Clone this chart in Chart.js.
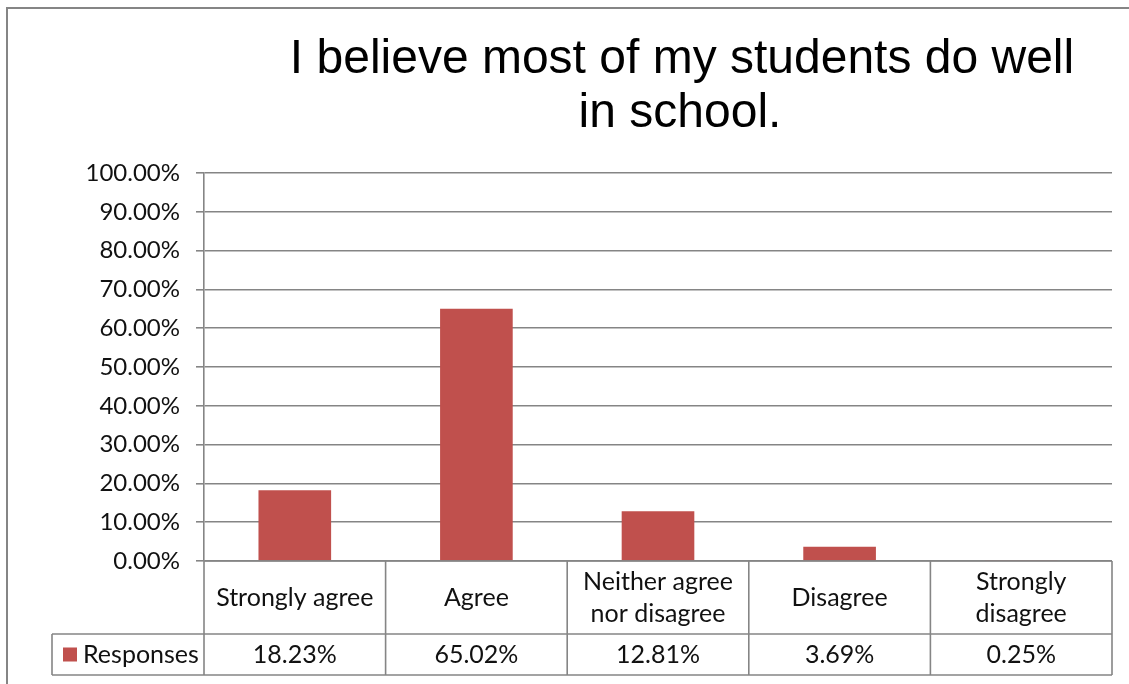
<!DOCTYPE html>
<html>
<head>
<meta charset="utf-8">
<script src="https://cdn.jsdelivr.net/npm/chart.js@4"></script>
<style>
  html, body { margin: 0; padding: 0; background: #ffffff; }
  #wrap { position: relative; width: 1129px; height: 684px; }
  canvas { display: block; }
</style>
</head>
<body>
<div id="wrap"><canvas id="c" width="1129" height="684"></canvas></div>
<script>
const titleLines = ["I believe most of my students do well", "in school."];
const categories = [["Strongly agree"], ["Agree"], ["Neither agree", "nor disagree"], ["Disagree"], ["Strongly", "disagree"]];
const seriesName = "Responses";
const responses = [18.23, 65.02, 12.81, 3.69, 0.25];
const yTicks = [0, 10, 20, 30, 40, 50, 60, 70, 80, 90, 100];

const LINE = '#858585';
const BAR = '#C0504D';
const TEXT_FONT = '"Lato", "Carlito", sans-serif';

const fmt = v => v.toFixed(2) + '%';

const decorPlugin = {
  id: 'decor',
  beforeDraw(chart) {
    const ctx = chart.ctx;
    ctx.save();
    ctx.fillStyle = '#ffffff';
    ctx.fillRect(0, 0, chart.width, chart.height);
    // outer chart border (top and left visible)
    ctx.strokeStyle = LINE;
    ctx.lineWidth = 2;
    ctx.beginPath();
    ctx.moveTo(7, chart.height + 2);
    ctx.lineTo(7, 8);
    ctx.lineTo(chart.width + 2, 8);
    ctx.stroke();
    // title
    ctx.fillStyle = '#000000';
    ctx.font = '48px "Liberation Sans", Arial, sans-serif';
    ctx.textAlign = 'center';
    ctx.textBaseline = 'alphabetic';
    ctx.fillText(titleLines[0], 682, 73);
    ctx.fillText(titleLines[1], 680, 127);
    ctx.restore();
  },
  afterDraw(chart) {
    const ctx = chart.ctx;
    const xs = chart.scales.x;
    const area = chart.chartArea;
    const n = categories.length;
    const cw = (area.right - area.left) / n;
    const top = area.bottom;
    const row1 = top + 73;
    const row2 = row1 + 41;
    const legendLeft = 52;
    ctx.save();
    ctx.strokeStyle = LINE;
    ctx.lineWidth = 1.6;
    ctx.beginPath();
    // horizontal lines
    ctx.moveTo(legendLeft, row1); ctx.lineTo(area.right, row1);
    ctx.moveTo(legendLeft, row2); ctx.lineTo(area.right, row2);
    ctx.moveTo(area.left, top); ctx.lineTo(area.right, top);
    // vertical lines
    for (let i = 0; i <= n; i++) {
      const x = i < n ? xs.getPixelForValue(i) - cw / 2 : xs.getPixelForValue(n - 1) + cw / 2;
      ctx.moveTo(x, top); ctx.lineTo(x, row2);
    }
    ctx.moveTo(legendLeft, row1); ctx.lineTo(legendLeft, row2);
    ctx.stroke();

    ctx.fillStyle = '#111111';
    ctx.font = '25px ' + TEXT_FONT;
    ctx.textAlign = 'center';
    ctx.textBaseline = 'middle';
    const mid1 = (top + row1) / 2;
    const mid2 = (row1 + row2) / 2;
    categories.forEach((lines, i) => {
      const cx = xs.getPixelForValue(i);
      const lh = 32;
      const y0 = mid1 - (lines.length - 1) * lh / 2;
      lines.forEach((t, k) => ctx.fillText(t, cx, y0 + k * lh));
      ctx.fillText(fmt(responses[i]), cx, mid2);
    });
    // legend key
    ctx.fillStyle = BAR;
    ctx.fillRect(63, mid2 - 7, 14, 14);
    ctx.fillStyle = '#111111';
    ctx.textAlign = 'left';
    ctx.fillText(seriesName, 83, mid2);
    ctx.restore();
  }
};

new Chart(document.getElementById('c'), {
  type: 'bar',
  data: {
    labels: categories.map(l => l.join(' ')),
    datasets: [{
      label: seriesName,
      data: responses,
      backgroundColor: BAR,
      borderWidth: 0,
      categoryPercentage: 1.0,
      barPercentage: 0.4
    }]
  },
  options: {
    responsive: false,
    animation: false,
    layout: { padding: { left: 20, right: 17, top: 173, bottom: 123 } },
    plugins: {
      legend: { display: false },
      title: { display: false },
      tooltip: { enabled: false }
    },
    scales: {
      x: {
        display: false,
        grid: { display: false }
      },
      y: {
        min: 0,
        max: 100,
        afterFit(scale) { scale.width = 184; },
        afterBuildTicks(scale) { scale.ticks = yTicks.map(v => ({ value: v })); },
        ticks: {
          padding: 16,
          color: '#111111',
          font: { family: TEXT_FONT, size: 24 },
          callback: v => fmt(v)
        },
        grid: {
          color: LINE,
          lineWidth: 1.6,
          tickLength: 8,
          drawTicks: true
        },
        border: { display: true, color: LINE, width: 1.6 }
      }
    }
  },
  plugins: [decorPlugin]
});
</script>
</body>
</html>
